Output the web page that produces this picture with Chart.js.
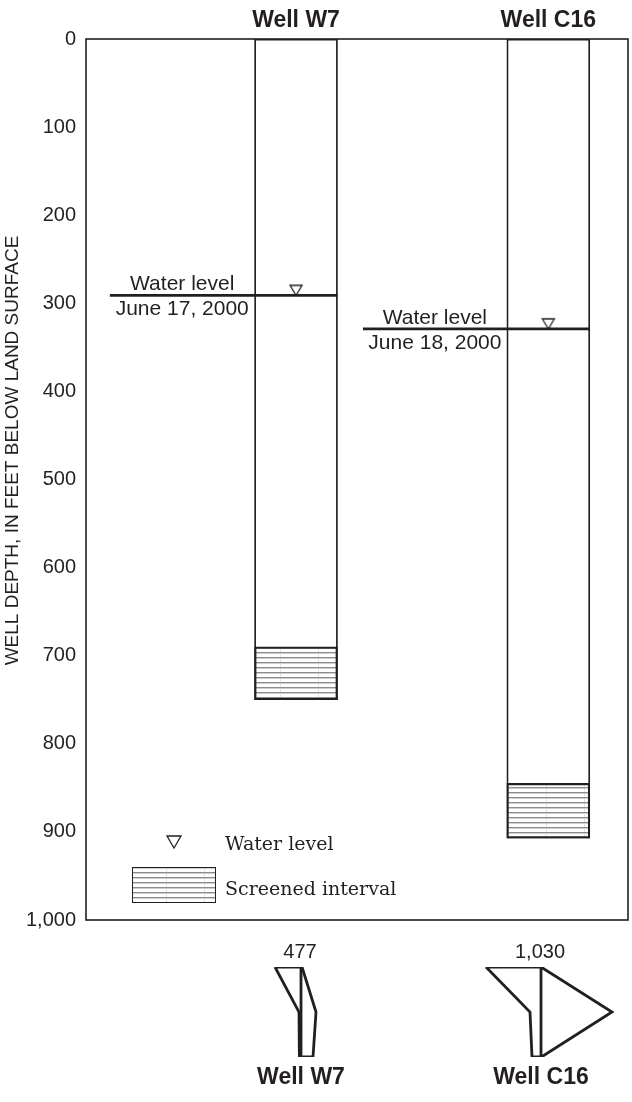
<!DOCTYPE html>
<html>
<head>
<meta charset="utf-8">
<script src="https://cdn.jsdelivr.net/npm/chart.js@4.4.1/dist/chart.umd.min.js"></script>
<style>
  html, body { margin: 0; padding: 0; background: #fff; }
  #wrap { position: relative; width: 632px; height: 1102px; overflow: hidden; }
  #main { position: absolute; left: 0; top: 0; }
  #stiff { position: absolute; left: 0; top: 942px; }
</style>
</head>
<body>
<div id="wrap">
  <canvas id="main" width="635" height="942"></canvas>
  <canvas id="stiff" width="632" height="160"></canvas>
</div>
<script>
// well data, depths in feet below land surface
var wells = ["Well W7", "Well C16"];
var wellDepth = [750, 907];
var screenTop = [690, 845];
var waterLevel = [291, 329];
var waterDate = ["June 17, 2000", "June 18, 2000"];
var depthTicks = [0, 100, 200, 300, 400, 500, 600, 700, 800, 900, 1000];

// stiff diagrams (milliequivalents per liter)
var dissolvedSolids = [477, 1030];
var cationNaK = [6.5, 13.75];
var cationCa = [0.5, 2.75];
var cationMg = [0.4, 2.25];
var anionCl = [0.25, 0];
var anionHCO3 = [3.75, 17.75];
var anionSO4 = [3, 0.1];

// layout, in x-scale units
var wellX = [38.75, 85.3];
var wellHalf = 7.65;
var lineStart = [4.4, 51.1];
var stiffCenter = [75.25, 135.25];

var ink = "#231f20";
var sans = "'Liberation Sans', Arial, Helvetica, sans-serif";
var serif = "'DejaVu Serif', serif";

var mainCanvas = document.getElementById("main");
var mainCtx = mainCanvas.getContext("2d");

// horizontal line fill for the screened interval
function makeHatch() {
  var c = document.createElement("canvas");
  c.width = 38; c.height = 5;
  var g = c.getContext("2d");
  g.fillStyle = "#fff"; g.fillRect(0, 0, 38, 5);
  g.fillStyle = "#e4e4e4"; g.fillRect(14, 0, 1, 5);
  g.fillStyle = "#8c8c8c"; g.fillRect(0, 2, 38, 1);
  g.fillStyle = "#cfcfcf"; g.fillRect(0, 3, 38, 1);
  return mainCtx.createPattern(c, "repeat");
}
var hatch = makeHatch();

// open triangle with its tip at the image centre, so it sits on the line
function triangleImg(w, h) {
  var c = document.createElement("canvas");
  c.width = w + 4; c.height = 2 * h + 4;
  var g = c.getContext("2d");
  var cx = c.width / 2, by = c.height / 2;
  g.strokeStyle = ink; g.lineWidth = 1.3;
  g.beginPath();
  g.moveTo(cx - w / 2, by - h);
  g.lineTo(cx + w / 2, by - h);
  g.lineTo(cx, by);
  g.closePath();
  g.stroke();
  return c;
}
var triImg = triangleImg(12, 10);
var legendTri = triangleImg(14, 12);

var casing = wells.map(function (w, i) { return { x: wellX[i], y: [0, wellDepth[i]] }; });
var screens = wells.map(function (w, i) { return { x: wellX[i], y: [screenTop[i], wellDepth[i]] }; });
var marks = wells.map(function (w, i) { return { x: wellX[i], y: waterLevel[i] }; });

var datasets = [{
  type: "scatter",
  data: marks,
  pointStyle: triImg,
  pointRadius: 6,
  order: 0
}];
wells.forEach(function (w, i) {
  datasets.push({
    type: "line",
    data: [{ x: lineStart[i], y: waterLevel[i] }, { x: wellX[i] + wellHalf, y: waterLevel[i] }],
    borderColor: ink,
    borderWidth: 2.6,
    pointRadius: 0,
    fill: false,
    order: 1
  });
});
datasets.push({
  type: "bar",
  data: screens,
  backgroundColor: hatch,
  borderColor: ink,
  borderWidth: 2.2,
  borderSkipped: false,
  barThickness: 83,
  grouped: false,
  order: 2
});
datasets.push({
  type: "bar",
  data: casing,
  backgroundColor: "#fff",
  borderColor: ink,
  borderWidth: 1.8,
  borderSkipped: false,
  barThickness: 83,
  grouped: false,
  order: 3
});

var framePlugin = {
  id: "frame",
  beforeDatasetsDraw: function (chart) {
    var a = chart.chartArea, ctx = chart.ctx;
    ctx.save();
    ctx.strokeStyle = ink;
    ctx.lineWidth = 1.6;
    ctx.strokeRect(a.left, a.top, a.right - a.left, a.bottom - a.top);
    ctx.restore();
  },
  afterDraw: function (chart) {
    var ctx = chart.ctx, a = chart.chartArea;
    var xs = chart.scales.x, ys = chart.scales.y;
    ctx.save();
    ctx.fillStyle = ink;
    ctx.textAlign = "center";

    // well names above the columns
    ctx.font = "bold 23px " + sans;
    wells.forEach(function (w, i) {
      ctx.fillText(w, xs.getPixelForValue(wellX[i]), a.top - 12);
    });

    // water level labels
    ctx.font = "21px " + sans;
    wells.forEach(function (w, i) {
      var cx = (xs.getPixelForValue(lineStart[i]) + xs.getPixelForValue(wellX[i] - wellHalf)) / 2;
      var py = ys.getPixelForValue(waterLevel[i]);
      ctx.fillText("Water level", cx, py - 5);
      ctx.fillText(waterDate[i], cx, py + 20);
    });

    // axis title
    ctx.save();
    ctx.translate(18, (a.top + a.bottom) / 2 - 29);
    ctx.rotate(-Math.PI / 2);
    ctx.font = "19px " + sans;
    ctx.fillText("WELL DEPTH, IN FEET BELOW LAND SURFACE", 0, 0);
    ctx.restore();

    // legend
    var lx = a.left + 88, ly = a.bottom - 72;
    ctx.drawImage(legendTri, lx - legendTri.width / 2, ly - legendTri.height / 2);
    ctx.textAlign = "left";
    ctx.font = "19px " + serif;
    ctx.fillText("Water level", a.left + 139, a.bottom - 70);
    var bx = a.left + 46, by = a.bottom - 53, bw = 83, bh = 35;
    ctx.fillStyle = hatch;
    ctx.fillRect(bx, by, bw, bh);
    ctx.strokeStyle = ink;
    ctx.lineWidth = 1;
    ctx.strokeRect(bx + 0.5, by + 0.5, bw, bh);
    ctx.fillStyle = ink;
    ctx.fillText("Screened interval", a.left + 139, by + 28);
    ctx.restore();
  }
};

new Chart(mainCtx, {
  data: { datasets: datasets },
  options: {
    responsive: false,
    animation: false,
    devicePixelRatio: 1,
    layout: { padding: { left: 0, top: 39, right: 1, bottom: 16 } },
    plugins: { legend: { display: false }, tooltip: { enabled: false } },
    scales: {
      x: { type: "linear", min: 0, max: 100, offset: false, display: false },
      y: {
        type: "linear",
        reverse: true,
        min: 0,
        max: 1000,
        afterBuildTicks: function (s) {
          s.ticks = depthTicks.map(function (v) { return { value: v }; });
        },
        afterFit: function (s) { s.width = 86; },
        ticks: {
          callback: function (v) { return v.toLocaleString("en-US"); },
          font: { family: sans, size: 20 },
          color: ink,
          padding: 10
        },
        grid: { display: false, drawTicks: false },
        border: { display: false }
      }
    }
  },
  plugins: [framePlugin]
});

// stiff diagrams below the chart
var stiffSets = [];
wells.forEach(function (w, i) {
  var c = stiffCenter[i];
  var cat = [cationNaK[i], cationCa[i], cationMg[i]];
  var an = [anionCl[i], anionHCO3[i], anionSO4[i]];
  var pts = [];
  for (var r = 0; r < 3; r++) pts.push({ x: c - cat[r], y: r });
  for (var k = 2; k >= 0; k--) pts.push({ x: c + an[k], y: k });
  pts.push(pts[0]);
  stiffSets.push({ data: pts, showLine: true, borderColor: ink, borderWidth: 2.8, pointRadius: 0, borderJoinStyle: "miter", tension: 0 });
  stiffSets.push({ data: [{ x: c, y: 0 }, { x: c, y: 2 }], showLine: true, borderColor: ink, borderWidth: 2.8, pointRadius: 0 });
});

var stiffLabels = {
  id: "stiffLabels",
  afterDraw: function (chart) {
    var ctx = chart.ctx, xs = chart.scales.x, ys = chart.scales.y;
    ctx.save();
    ctx.fillStyle = ink;
    ctx.textAlign = "center";
    wells.forEach(function (w, i) {
      var cx = xs.getPixelForValue(stiffCenter[i]);
      ctx.font = "20px " + sans;
      ctx.fillText(dissolvedSolids[i].toLocaleString("en-US"), cx - 1, ys.getPixelForValue(0) - 9);
      ctx.font = "bold 23px " + sans;
      ctx.fillText(w, cx, ys.getPixelForValue(2) + 27);
    });
    ctx.restore();
  }
};

new Chart(document.getElementById("stiff").getContext("2d"), {
  type: "scatter",
  data: { datasets: stiffSets },
  options: {
    responsive: false,
    animation: false,
    devicePixelRatio: 1,
    layout: { padding: { left: 0, right: 0, top: 25, bottom: 45 } },
    plugins: { legend: { display: false }, tooltip: { enabled: false } },
    scales: {
      x: { type: "linear", min: 0, max: 158, display: false },
      y: { type: "linear", min: 0, max: 2, reverse: true, display: false }
    }
  },
  plugins: [stiffLabels]
});
</script>
</body>
</html>
